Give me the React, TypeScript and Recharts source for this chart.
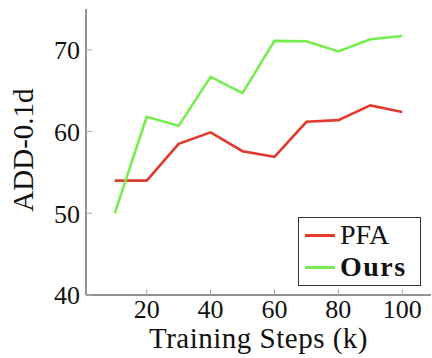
import React from 'react';
import { LineChart, Line, XAxis, YAxis, Legend } from 'recharts';

const steps = [10, 20, 30, 40, 50, 60, 70, 80, 90, 100];
const pfa = [54.0, 54.0, 58.5, 59.9, 57.6, 56.9, 61.2, 61.4, 63.2, 62.4];
const ours = [50.0, 61.8, 60.7, 66.7, 64.7, 71.1, 71.05, 69.8, 71.3, 71.7];
const xTicks = [20, 40, 60, 80, 100];
const yTicks = [40, 50, 60, 70];
const xDomain = [1, 109];
const yDomain = [40, 75];
const seriesKeys = ['pfa', 'ours'];
const seriesNames: Record<string, string> = { pfa: 'PFA', ours: 'Ours' };

const data = steps.map((s, i) => ({ step: s, pfa: pfa[i], ours: ours[i] }));

const FONT = '"Liberation Serif", "Times New Roman", serif';
const RED = '#e23a2c';
const GREEN = '#74ee4c';
const FRAME = '#6e6e6e';
const TICK = '#a8a8a8';

const YLabel = (props: any) => {
  const vb = props.viewBox;
  const x = vb.x + 33;
  const y = vb.y + vb.height / 2 - 2;
  return (
    <text
      x={x}
      y={y}
      transform={`rotate(-90 ${x} ${y})`}
      textAnchor="middle"
      style={{ fontFamily: FONT, fontSize: 29 }}
      fill="#111"
    >
      ADD-0.1d
    </text>
  );
};

const renderLegend = (props: any) => {
  const raw = (props.payload || []).filter((p: any) => p.dataKey);
  const items = seriesKeys
    .map((k) => raw.find((p: any) => p.dataKey === k))
    .filter(Boolean);
  return (
    <div
      style={{
        border: '1.5px solid #333',
        background: '#fff',
        width: 121,
        height: 66,
        boxSizing: 'content-box',
        fontFamily: FONT,
        fontSize: 28,
        color: '#111',
        paddingTop: 1,
      }}
    >
      {items.map((p: any) => (
        <div
          key={p.dataKey}
          style={{ display: 'flex', alignItems: 'center', height: 32, lineHeight: '32px' }}
        >
          <div style={{ width: 30, height: 3, background: p.color, marginLeft: 6, marginRight: 5 }} />
          <span
            style={{
              fontFamily: FONT,
              fontWeight: p.dataKey === 'ours' ? 'bold' : 'normal',
              letterSpacing: p.dataKey === 'ours' ? 1.5 : 0,
            }}
          >
            {seriesNames[p.dataKey]}
          </span>
        </div>
      ))}
    </div>
  );
};

export default function App() {
  return (
    <div style={{ position: 'absolute', left: 0, top: 0, background: '#fff', fontFamily: FONT }}>
      <LineChart
        width={432}
        height={358}
        data={data}
        margin={{ top: 9, right: 1, left: 0, bottom: 0 }}
        style={{ fontFamily: FONT }}
      >
        <XAxis
          xAxisId="b"
          dataKey="step"
          type="number"
          domain={xDomain}
          ticks={xTicks}
          orientation="bottom"
          height={63}
          tickSize={-6}
          tickMargin={11}
          axisLine={{ stroke: FRAME, strokeWidth: 1.5 }}
          tickLine={{ stroke: TICK }}
          tick={{ fontFamily: FONT, fontSize: 26, fill: '#111', style: { fontFamily: FONT } } as any}
          label={{ value: 'Training Steps (k)', position: 'insideBottom', offset: 10, fontSize: 29, fill: '#111', letterSpacing: 0.5, style: { fontFamily: FONT } } as any}
          allowDataOverflow
        />
        <XAxis
          xAxisId="t"
          dataKey="step"
          type="number"
          domain={xDomain}
          ticks={xTicks}
          orientation="top"
          height={0}
          tickSize={-6}
          axisLine={{ stroke: FRAME, strokeWidth: 1.5 }}
          tickLine={{ stroke: TICK }}
          tick={false}
          allowDataOverflow
        />
        <YAxis
          yAxisId="l"
          type="number"
          domain={yDomain}
          ticks={yTicks}
          orientation="left"
          width={86}
          tickSize={-6}
          tickMargin={12}
          axisLine={{ stroke: FRAME, strokeWidth: 1.5 }}
          tickLine={{ stroke: TICK }}
          tick={{ fontFamily: FONT, fontSize: 26, fill: '#111', style: { fontFamily: FONT } } as any}
          label={<YLabel />}
          allowDataOverflow
        />
        <YAxis
          yAxisId="r"
          type="number"
          domain={yDomain}
          ticks={yTicks}
          orientation="right"
          width={0}
          tickSize={-6}
          axisLine={{ stroke: FRAME, strokeWidth: 1.5 }}
          tickLine={{ stroke: TICK }}
          tick={false}
          allowDataOverflow
        />
        <Line
          xAxisId="b"
          yAxisId="l"
          dataKey="pfa"
          name={seriesNames.pfa}
          stroke={RED}
          strokeWidth={2.6}
          dot={false}
          isAnimationActive={false}
        />
        <Line
          xAxisId="b"
          yAxisId="l"
          dataKey="ours"
          name={seriesNames.ours}
          stroke={GREEN}
          strokeWidth={2.6}
          dot={false}
          isAnimationActive={false}
        />
        <Legend
          layout="vertical"
          align="center"
          verticalAlign="middle"
          content={renderLegend}
          wrapperStyle={{ position: 'absolute', left: 298, top: 217, width: 'auto' }}
        />
      </LineChart>
    </div>
  );
}
